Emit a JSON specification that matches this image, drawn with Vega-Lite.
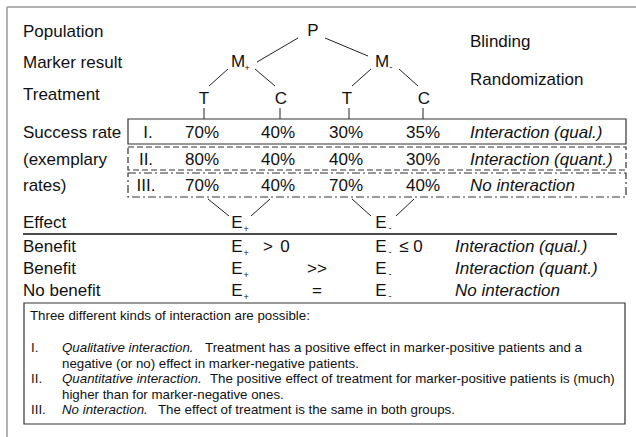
{
  "$schema": "https://vega.github.io/schema/vega-lite/v6.json",
  "width": 636,
  "height": 437,
  "autosize": {"type": "none"},
  "padding": 0,
  "background": "white",
  "config": {"view": {"stroke": null}, "axis": {"disable": true}, "text": {"font": "Liberation Sans"}},
  "datasets": {
    "frame": [
      {"x": 7, "y": 7, "x2": 636, "y2": 7},
      {"x": 7, "y": 7, "x2": 7, "y2": 437}
    ],
    "tree": [
      {"x": 257, "y": 62, "x2": 298, "y2": 38},
      {"x": 325, "y": 38, "x2": 368, "y2": 56},
      {"x": 228, "y": 69, "x2": 209, "y2": 86},
      {"x": 255, "y": 69, "x2": 275, "y2": 86},
      {"x": 371, "y": 69, "x2": 352, "y2": 86},
      {"x": 399, "y": 69, "x2": 418, "y2": 86},
      {"x": 204, "y": 108, "x2": 204, "y2": 119},
      {"x": 280, "y": 108, "x2": 280, "y2": 119},
      {"x": 349, "y": 108, "x2": 349, "y2": 119},
      {"x": 423, "y": 108, "x2": 423, "y2": 119},
      {"x": 208, "y": 199, "x2": 229, "y2": 216},
      {"x": 270, "y": 199, "x2": 251, "y2": 216},
      {"x": 352, "y": 199, "x2": 371, "y2": 216},
      {"x": 414, "y": 199, "x2": 396, "y2": 216}
    ],
    "rule": [
      {"x": 23, "y": 234, "x2": 617, "y2": 234}
    ],
    "solidBoxes": [
      {"x": 128, "x2": 626, "y": 119, "y2": 144},
      {"x": 24, "x2": 625, "y": 303, "y2": 424}
    ],
    "dashedBoxes": [
      {"x": 128, "x2": 626, "y": 147, "y2": 170}
    ],
    "dashdotBoxes": [
      {"x": 128, "x2": 626, "y": 173, "y2": 197}
    ],
    "labels": [
      {"x": 23, "y": 37, "t": "Population"},
      {"x": 23, "y": 68, "t": "Marker result"},
      {"x": 23, "y": 100, "t": "Treatment"},
      {"x": 23, "y": 138, "t": "Success rate"},
      {"x": 23, "y": 165, "t": "(exemplary"},
      {"x": 23, "y": 191, "t": "rates)"},
      {"x": 23, "y": 228, "t": "Effect"},
      {"x": 23, "y": 252, "t": "Benefit"},
      {"x": 23, "y": 274, "t": "Benefit"},
      {"x": 23, "y": 296, "t": "No benefit"},
      {"x": 470, "y": 47, "t": "Blinding"},
      {"x": 470, "y": 85, "t": "Randomization"}
    ],
    "centered": [
      {"x": 313, "y": 36, "t": "P"},
      {"x": 238, "y": 67, "t": "M"},
      {"x": 382, "y": 67, "t": "M"},
      {"x": 204, "y": 104, "t": "T"},
      {"x": 281, "y": 104, "t": "C"},
      {"x": 347, "y": 104, "t": "T"},
      {"x": 424, "y": 104, "t": "C"},
      {"x": 148, "y": 138, "t": "I."},
      {"x": 146, "y": 165, "t": "II."},
      {"x": 146, "y": 191, "t": "III."},
      {"x": 202, "y": 138, "t": "70%"},
      {"x": 278, "y": 138, "t": "40%"},
      {"x": 346, "y": 138, "t": "30%"},
      {"x": 423, "y": 138, "t": "35%"},
      {"x": 202, "y": 165, "t": "80%"},
      {"x": 278, "y": 165, "t": "40%"},
      {"x": 346, "y": 165, "t": "40%"},
      {"x": 423, "y": 165, "t": "30%"},
      {"x": 202, "y": 191, "t": "70%"},
      {"x": 278, "y": 191, "t": "40%"},
      {"x": 346, "y": 191, "t": "70%"},
      {"x": 423, "y": 191, "t": "40%"},
      {"x": 237, "y": 228, "t": "E"},
      {"x": 381, "y": 228, "t": "E"},
      {"x": 237, "y": 252, "t": "E"},
      {"x": 268, "y": 252, "t": ">"},
      {"x": 285, "y": 252, "t": "0"},
      {"x": 381, "y": 252, "t": "E"},
      {"x": 404, "y": 252, "t": "≤"},
      {"x": 418, "y": 252, "t": "0"},
      {"x": 237, "y": 274, "t": "E"},
      {"x": 317, "y": 274, "t": ">>"},
      {"x": 381, "y": 274, "t": "E"},
      {"x": 237, "y": 296, "t": "E"},
      {"x": 317, "y": 296, "t": "="},
      {"x": 381, "y": 296, "t": "E"}
    ],
    "subs": [
      {"x": 247, "y": 71, "t": "+"},
      {"x": 391, "y": 70, "t": "-"},
      {"x": 246, "y": 232, "t": "+"},
      {"x": 390, "y": 231, "t": "-"},
      {"x": 246, "y": 256, "t": "+"},
      {"x": 390, "y": 255, "t": "-"},
      {"x": 246, "y": 278, "t": "+"},
      {"x": 390, "y": 277, "t": "-"},
      {"x": 246, "y": 300, "t": "+"},
      {"x": 390, "y": 299, "t": "-"}
    ],
    "italic": [
      {"x": 470, "y": 138, "t": "Interaction (qual.)"},
      {"x": 470, "y": 165, "t": "Interaction (quant.)"},
      {"x": 470, "y": 191, "t": "No interaction"},
      {"x": 455, "y": 252, "t": "Interaction (qual.)"},
      {"x": 455, "y": 274, "t": "Interaction (quant.)"},
      {"x": 455, "y": 296, "t": "No interaction"}
    ],
    "notes": [
      {"x": 30, "y": 320, "t": "Three different kinds of interaction are possible:"},
      {"x": 31, "y": 352, "t": "I."},
      {"x": 205, "y": 352, "t": "Treatment has a positive effect in marker-positive patients and a"},
      {"x": 62, "y": 367.5, "t": "negative (or no) effect in marker-negative patients."},
      {"x": 31, "y": 383, "t": "II."},
      {"x": 210, "y": 383, "t": "The positive effect of treatment for marker-positive patients is (much)"},
      {"x": 62, "y": 398.5, "t": "higher than for marker-negative ones."},
      {"x": 31, "y": 414, "t": "III."},
      {"x": 158, "y": 414, "t": "The effect of treatment is the same in both groups."}
    ],
    "notesItalic": [
      {"x": 62, "y": 352, "t": "Qualitative interaction."},
      {"x": 62, "y": 383, "t": "Quantitative interaction."},
      {"x": 62, "y": 414, "t": "No interaction."}
    ]
  },
  "layer": [
    {
      "data": {"name": "frame"},
      "mark": {"type": "rule", "color": "#9a9a9a", "strokeWidth": 1.5},
      "encoding": {
        "x": {"field": "x", "type": "quantitative", "scale": {"domain": [0, 636], "nice": false, "zero": false}, "axis": null},
        "y": {"field": "y", "type": "quantitative", "scale": {"domain": [0, 437], "nice": false, "zero": false, "reverse": true}, "axis": null},
        "x2": {"field": "x2"},
        "y2": {"field": "y2"}
      }
    },
    {
      "data": {"name": "tree"},
      "mark": {"type": "rule", "color": "#222", "strokeWidth": 1},
      "encoding": {
        "x": {"field": "x", "type": "quantitative"},
        "y": {"field": "y", "type": "quantitative"},
        "x2": {"field": "x2"},
        "y2": {"field": "y2"}
      }
    },
    {
      "data": {"name": "rule"},
      "mark": {"type": "rule", "color": "#111", "strokeWidth": 1.6},
      "encoding": {
        "x": {"field": "x", "type": "quantitative"},
        "y": {"field": "y", "type": "quantitative"},
        "x2": {"field": "x2"},
        "y2": {"field": "y2"}
      }
    },
    {
      "data": {"name": "solidBoxes"},
      "mark": {"type": "rect", "fillOpacity": 0, "stroke": "#333", "strokeWidth": 1.2},
      "encoding": {
        "x": {"field": "x", "type": "quantitative"},
        "y": {"field": "y", "type": "quantitative"},
        "x2": {"field": "x2"},
        "y2": {"field": "y2"}
      }
    },
    {
      "data": {"name": "dashedBoxes"},
      "mark": {"type": "rect", "fillOpacity": 0, "stroke": "#333", "strokeWidth": 1.2, "strokeDash": [6, 3]},
      "encoding": {
        "x": {"field": "x", "type": "quantitative"},
        "y": {"field": "y", "type": "quantitative"},
        "x2": {"field": "x2"},
        "y2": {"field": "y2"}
      }
    },
    {
      "data": {"name": "dashdotBoxes"},
      "mark": {"type": "rect", "fillOpacity": 0, "stroke": "#333", "strokeWidth": 1.2, "strokeDash": [8, 3, 2, 3]},
      "encoding": {
        "x": {"field": "x", "type": "quantitative"},
        "y": {"field": "y", "type": "quantitative"},
        "x2": {"field": "x2"},
        "y2": {"field": "y2"}
      }
    },
    {
      "data": {"name": "labels"},
      "mark": {"type": "text", "align": "left", "baseline": "alphabetic", "fontSize": 17, "color": "#111"},
      "encoding": {
        "x": {"field": "x", "type": "quantitative"},
        "y": {"field": "y", "type": "quantitative"},
        "text": {"field": "t"}
      }
    },
    {
      "data": {"name": "centered"},
      "mark": {"type": "text", "align": "center", "baseline": "alphabetic", "fontSize": 17, "color": "#111"},
      "encoding": {
        "x": {"field": "x", "type": "quantitative"},
        "y": {"field": "y", "type": "quantitative"},
        "text": {"field": "t"}
      }
    },
    {
      "data": {"name": "subs"},
      "mark": {"type": "text", "align": "center", "baseline": "alphabetic", "fontSize": 9, "color": "#111"},
      "encoding": {
        "x": {"field": "x", "type": "quantitative"},
        "y": {"field": "y", "type": "quantitative"},
        "text": {"field": "t"}
      }
    },
    {
      "data": {"name": "italic"},
      "mark": {"type": "text", "align": "left", "baseline": "alphabetic", "fontSize": 17, "fontStyle": "italic", "color": "#111"},
      "encoding": {
        "x": {"field": "x", "type": "quantitative"},
        "y": {"field": "y", "type": "quantitative"},
        "text": {"field": "t"}
      }
    },
    {
      "data": {"name": "notes"},
      "mark": {"type": "text", "align": "left", "baseline": "alphabetic", "fontSize": 13.3, "color": "#111"},
      "encoding": {
        "x": {"field": "x", "type": "quantitative"},
        "y": {"field": "y", "type": "quantitative"},
        "text": {"field": "t"}
      }
    },
    {
      "data": {"name": "notesItalic"},
      "mark": {"type": "text", "align": "left", "baseline": "alphabetic", "fontSize": 13.3, "fontStyle": "italic", "color": "#111"},
      "encoding": {
        "x": {"field": "x", "type": "quantitative"},
        "y": {"field": "y", "type": "quantitative"},
        "text": {"field": "t"}
      }
    }
  ]
}
